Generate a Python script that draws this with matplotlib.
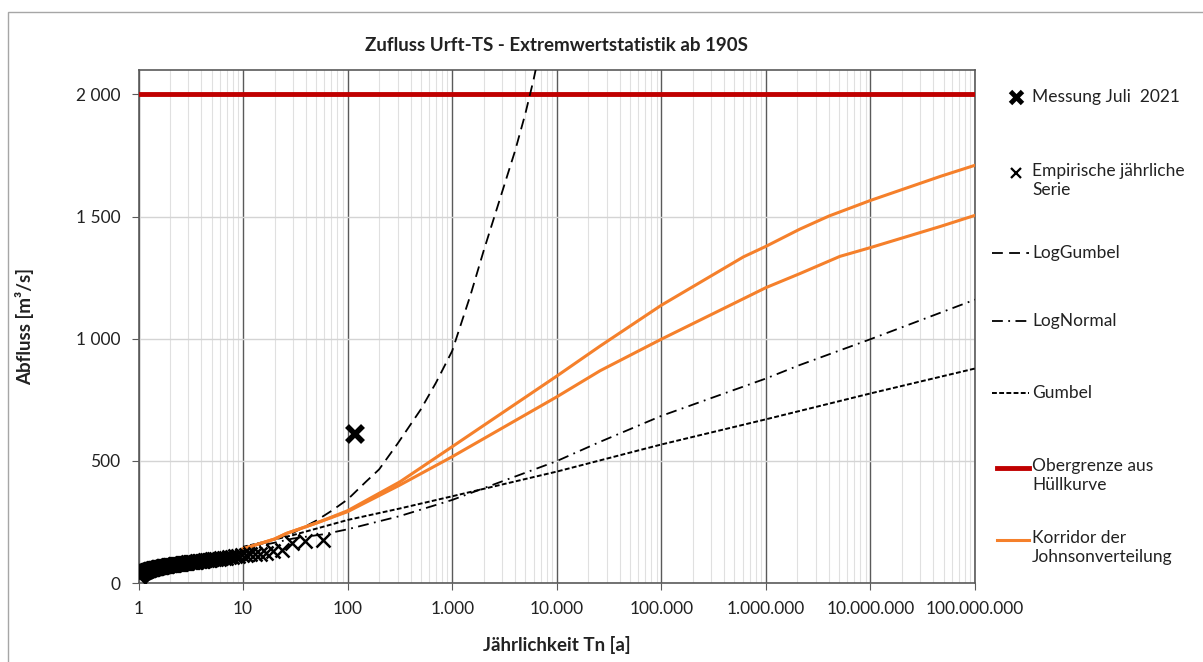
import matplotlib
matplotlib.use("Agg")
import matplotlib.pyplot as plt
from matplotlib.lines import Line2D
from matplotlib.patches import Rectangle
from matplotlib.ticker import FixedLocator, FuncFormatter, LogLocator, NullFormatter

plt.rcParams['font.family'] = ['Lato', 'DejaVu Sans']

# Empirische jaehrliche Serie (Jaehrlichkeit, Abfluss)
emp_T = [58.5, 39.0, 29.25, 23.4, 19.5, 16.71, 14.63, 13.0, 11.7, 10.64,
         9.75, 9.0, 8.36, 7.8, 7.31, 6.88, 6.5, 6.16, 5.85, 5.57,
         5.32, 5.09, 4.88, 4.68, 4.5, 4.33, 4.18, 4.03, 3.9, 3.77,
         3.66, 3.55, 3.44, 3.34, 3.25, 3.16, 3.08, 3.0, 2.93, 2.85,
         2.79, 2.72, 2.66, 2.6, 2.54, 2.49, 2.44, 2.39, 2.34, 2.29,
         2.25, 2.21, 2.17, 2.13, 2.09, 2.05, 2.02, 1.98, 1.95, 1.92,
         1.89, 1.86, 1.83, 1.8, 1.77, 1.75, 1.72, 1.7, 1.67, 1.65,
         1.625, 1.6, 1.58, 1.56, 1.54, 1.52, 1.5, 1.48, 1.46, 1.44,
         1.43, 1.41, 1.39, 1.38, 1.36, 1.34, 1.33, 1.31, 1.3, 1.29,
         1.27, 1.26, 1.24, 1.23, 1.22, 1.21, 1.19, 1.18, 1.17, 1.16,
         1.15, 1.14, 1.13, 1.11, 1.1, 1.09, 1.08, 1.07, 1.06, 1.05,
         1.04, 1.035, 1.03, 1.02, 1.01, 1.0]
emp_Q = [176, 173, 162, 135, 132, 121, 120, 118, 117, 115,
         113, 112, 110, 108, 106, 104, 103, 101, 100, 99,
         98, 97, 96, 95, 94, 93, 92, 91, 90, 90,
         89, 88, 87, 86, 86, 85, 84, 84, 83, 82,
         82, 81, 80, 80, 79, 79, 78, 78, 77, 77,
         76, 76, 75, 75, 74, 74, 73, 73, 72, 72,
         71, 71, 70, 70, 69, 69, 68, 68, 67, 67,
         66, 66, 65, 65, 64, 64, 63, 63, 62, 62,
         61, 61, 60, 59, 59, 58, 58, 57, 56, 56,
         55, 54, 54, 53, 52, 52, 51, 50, 50, 49,
         48, 47, 46, 45, 44, 43, 42, 41, 40, 38,
         37, 35, 33, 31, 28, 25]

# Messung Juli 2021
mess_T = [118]
mess_Q = [608]

# LogGumbel
lg_T = [10, 15, 20, 30, 50, 70, 100, 150, 200, 300, 500, 700, 1000, 1500,
        2000, 3000, 4000, 5000, 6000, 6500]
lg_Q = [140, 160, 178, 205, 255, 295, 342, 415, 465, 570, 710, 820, 950, 1180,
        1360, 1600, 1770, 1920, 2060, 2130]

# LogNormal
ln_T = [10, 20, 30, 60, 100, 316, 1000, 3000, 1e4, 2.6e4, 1e5, 1e6, 2.1e6, 1e7, 1e8]
ln_Q = [138, 165, 182, 200, 220, 274, 340, 416, 499, 578, 684, 837, 892, 998, 1160]

# Gumbel
gu_T = [10, 20, 30, 100, 316, 1000, 1e4, 1e5, 1e6, 1e7, 1e8]
gu_Q = [148, 178, 196, 258, 305, 355, 456, 567, 670, 776, 878]

# Korridor der Johnsonverteilung
jo_T = [10, 20, 26, 50, 100, 316, 1000, 1e4, 2.6e4, 1e5, 6.1e5, 1e6, 2.1e6,
        4e6, 1e7, 4.7e7, 1e8]
jo_up = [140, 180, 203, 245, 296, 414, 558, 847, 970, 1137, 1335, 1378, 1448,
         1502, 1566, 1665, 1710]
jo_T2 = [10, 20, 26, 50, 100, 316, 1000, 1e4, 2.6e4, 1e5, 1e6, 2.1e6, 5.1e6,
         1e7, 4.7e7, 1e8]
jo_lo = [140, 180, 203, 245, 292, 401, 517, 762, 869, 998, 1209, 1266, 1337,
         1373, 1460, 1505]

# Obergrenze aus Huellkurve
obergrenze = 2000

x_ticks = [1, 10, 100, 1e3, 1e4, 1e5, 1e6, 1e7, 1e8]
y_ticks = [0, 500, 1000, 1500, 2000]

W, H = 1203, 662
fig = plt.figure(figsize=(W / 100, H / 100), dpi=100)
fig.patches.append(Rectangle((8 / W, -0.1), 1.2, (H - 12) / H + 0.1,
                             transform=fig.transFigure, fill=False,
                             edgecolor='#a6a6a6', lw=1))

ax = fig.add_axes([138.5 / W, 1 - 583 / H, (975 - 138.5) / W, (583 - 70) / H])
ax.set_xscale('log')
ax.set_xlim(1, 1e8)
ax.set_ylim(0, 2100)

ax.xaxis.set_major_locator(FixedLocator(x_ticks))
ax.xaxis.set_minor_locator(LogLocator(base=10, subs=range(2, 10), numticks=100))
ax.xaxis.set_minor_formatter(NullFormatter())
ax.xaxis.set_major_formatter(FuncFormatter(lambda v, p: f"{int(round(v)):,}".replace(',', '.')))
ax.yaxis.set_major_locator(FixedLocator(y_ticks))
ax.yaxis.set_major_formatter(FuncFormatter(lambda v, p: f"{int(v):,}".replace(',', ' ')))

ax.grid(which='major', axis='x', color='#5a5a5a', lw=1)
ax.grid(which='minor', axis='x', color='#e0e0e0', lw=0.8)
ax.grid(which='major', axis='y', color='#d4d4d4', lw=1)
ax.set_axisbelow(True)
for s in ax.spines.values():
    s.set_color('#5a5a5a')
    s.set_linewidth(1.2)
ax.tick_params(which='major', length=5, color='#5a5a5a', labelsize=12.5, pad=8,
               labelcolor='#222222')
ax.tick_params(which='minor', length=0)

ax.axhline(obergrenze, color='#c00000', lw=3.5, zorder=3)
ax.plot(gu_T, gu_Q, color='black', lw=1.4, dashes=(2.5, 1.2), zorder=4)
ax.plot(ln_T, ln_Q, color='black', lw=1.3, dashes=(6, 3, 1, 3), zorder=4)
ax.plot(lg_T, lg_Q, color='black', lw=1.3, dashes=(6, 3.5), zorder=4)
ax.plot(jo_T, jo_up, color='#f5802b', lw=2.2, zorder=5)
ax.plot(jo_T2, jo_lo, color='#f5802b', lw=2.2, zorder=5)
ax.plot(emp_T, emp_Q, ls='none', marker='x', color='black', ms=10, mew=1.8, zorder=6)
ax.plot(mess_T, mess_Q, ls='none', marker='x', color='black', ms=11, mew=4, zorder=6)

ax.set_title('Zufluss Urft-TS - Extremwertstatistik ab 190S', fontsize=13.5,
             fontweight='bold', pad=14, color='#222222')
ax.set_ylabel('Abfluss [m³/s]', fontsize=13.5, fontweight='bold', labelpad=30,
              color='#222222')
ax.set_xlabel('Jährlichkeit Tn [a]', fontsize=13.5, fontweight='bold', labelpad=14,
              color='#222222')

# Legende rechts
def fx(px):
    return px / W


def fy(py):
    return 1 - py / H


tx = 1032
lfs = 12.5
fig.add_artist(Line2D([fx(1016)], [fy(97)], marker='x', ms=8, mew=3.5, color='black'))
fig.text(fx(tx), fy(97), 'Messung Juli  2021', fontsize=lfs, va='center', color='#222222')
fig.add_artist(Line2D([fx(1016)], [fy(173)], marker='x', ms=7, mew=1.6, color='black'))
fig.text(fx(tx), fy(173) + 10 / H, 'Empirische jährliche\nSerie', fontsize=lfs,
         va='top', linespacing=1.2, color='#222222')
fig.add_artist(Line2D([fx(992), fx(1029)], [fy(253)] * 2, color='black', lw=1.3,
                      dashes=(6, 3.5)))
fig.text(fx(tx), fy(253), 'LogGumbel', fontsize=lfs, va='center', color='#222222')
fig.add_artist(Line2D([fx(992), fx(1029)], [fy(321)] * 2, color='black', lw=1.3,
                      dashes=(6, 3, 1, 3)))
fig.text(fx(tx), fy(321), 'LogNormal', fontsize=lfs, va='center', color='#222222')
fig.add_artist(Line2D([fx(992), fx(1029)], [fy(393)] * 2, color='black', lw=1.4,
                      dashes=(2.5, 1.2)))
fig.text(fx(tx), fy(393), 'Gumbel', fontsize=lfs, va='center', color='#222222')
fig.add_artist(Line2D([fx(997), fx(1029)], [fy(468)] * 2, color='#c00000', lw=3.5))
fig.text(fx(tx), fy(468) + 10 / H, 'Obergrenze aus\nHüllkurve', fontsize=lfs,
         va='top', linespacing=1.2, color='#222222')
fig.add_artist(Line2D([fx(997), fx(1029)], [fy(540)] * 2, color='#f5802b', lw=2.2))
fig.text(fx(tx), fy(540) + 10 / H, 'Korridor der\nJohnsonverteilung', fontsize=lfs,
         va='top', linespacing=1.2, color='#222222')

fig.savefig('out.png', dpi=100, facecolor='white')
